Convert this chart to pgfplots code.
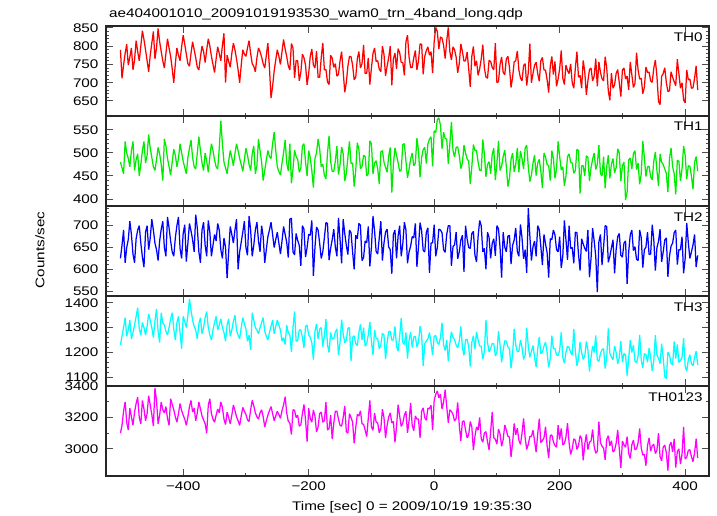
\documentclass[border=0pt]{standalone}
\usepackage{fontspec}
\setmainfont{Liberation Sans}[FakeStretch=1.22]
\usepackage{pgfplots}
\usepackage{pgfplotstable}
\pgfplotsset{compat=1.18}

\pgfplotstableread{
t a b c d e
-510 760 470 640 1250 3130
-507.5 735 495 660 1225 3085
-505 722 515 675 1285 3190
-502.5 768 500 700 1310 3230
-500 790 480 625 1230 3100
-497.5 712 468 655 1265 3150
-495 748 455 690 1300 3240
-492.5 780 525 615 1340 3300
-490 805 500 650 1265 3170
-487.5 748 488 668 1290 3120
-485 770 470 710 1330 3260
-482.5 795 505 680 1255 3205
-480 735 525 635 1280 3150
-477.5 762 462 615 1310 3235
-475 815 485 670 1345 3290
-472.5 785 498 690 1380 3330
-470 760 450 700 1295 3200
-467.5 800 475 660 1270 3160
-465 842 505 628 1320 3310
-462.5 818 525 605 1300 3255
-460 790 478 685 1270 3180
-457.5 760 495 700 1305 3225
-455 730 540 645 1355 3340
-452.5 775 510 672 1330 3280
-450 808 490 715 1300 3220
-447.5 840 470 690 1260 3145
-445 765 462 660 1325 3390
-442.5 795 485 645 1375 3310
-440 848 512 620 1285 3160
-437.5 812 498 665 1240 3215
-435 785 475 692 1360 3300
-432.5 760 440 710 1320 3250
-430 740 530 650 1310 3230
-427.5 780 515 630 1285 3270
-425 820 488 720 1270 3195
-422.5 795 470 695 1300 3150
-420 772 452 665 1335 3320
-417.5 738 480 640 1360 3285
-415 700 508 630 1295 3250
-412.5 752 495 672 1250 3205
-410 795 470 700 1320 3170
-407.5 775 488 720 1345 3225
-405 760 520 648 1280 3290
-402.5 798 500 625 1215 3245
-400 830 482 682 1345 3215
-397.5 805 468 702 1325 3190
-395 778 455 618 1300 3150
-392.5 752 490 660 1350 3205
-390 745 510 705 1415 3270
-387.5 780 528 688 1370 3310
-385 812 490 668 1330 3235
-382.5 790 470 640 1305 3260
-380 768 465 725 1290 3180
-377.5 742 500 695 1255 3230
-375 735 535 640 1315 3300
-372.5 770 505 615 1340 3255
-370 800 478 690 1275 3210
-367.5 785 462 708 1300 3185
-365 755 500 655 1340 3160
-362.5 790 482 630 1365 3100
-360 820 458 712 1300 3280
-357.5 800 492 685 1270 3320
-355 772 520 630 1250 3225
-352.5 750 505 655 1290 3190
-350 728 485 680 1320 3170
-347.5 765 470 665 1345 3215
-345 798 465 705 1290 3255
-342.5 780 510 690 1310 3230
-340 760 570 645 1335 3300
-337.5 802 520 625 1300 3265
-335 835 480 672 1280 3190
-332.5 700 468 650 1245 3155
-330 775 455 580 1310 3235
-327.5 758 482 640 1335 3200
-325 742 505 698 1265 3160
-322.5 780 490 680 1290 3215
-320 808 472 660 1325 3280
-317.5 790 498 690 1350 3245
-315 765 520 715 1290 3205
-312.5 735 505 600 1270 3180
-310 700 488 640 1255 3150
-307.5 748 475 662 1300 3210
-305 790 460 685 1340 3265
-302.5 778 485 710 1315 3240
-300 772 510 650 1295 3220
-297.5 795 495 632 1245 3185
-295 815 475 722 1270 3175
-292.5 780 462 690 1210 3250
-290 752 498 630 1360 3310
-287.5 745 515 655 1330 3275
-285 730 455 690 1300 3230
-282.5 768 472 708 1290 3205
-280 795 530 665 1275 3190
-277.5 785 505 640 1300 3230
-275 770 480 700 1320 3250
-272.5 752 440 675 1340 3205
-270 740 462 615 1285 3140
-267.5 775 485 645 1265 3180
-265 808 505 675 1250 3215
-262.5 740 492 690 1280 3245
-260 658 488 708 1305 3270
-257.5 690 520 680 1330 3225
-255 732 545 650 1275 3180
-252.5 762 505 668 1305 3210
-250 790 470 685 1330 3240
-247.5 772 460 660 1310 3220
-245 750 452 635 1290 3195
-242.5 785 478 665 1245 3245
-240 818 500 698 1260 3280
-237.5 792 528 680 1232 3333
-235 772 478 662 1310 3230
-232.5 746 461 627 1279 3176
-230 735 520 715 1270 3165
-227.5 807 434 717 1202 3091
-225 795 465 640 1300 3250
-222.5 713 506 633 1365 3246
-220 760 492 682 1245 3200
-217.5 760 486 666 1248 3215
-215 705 458 655 1290 3145
-212.5 728 467 608 1291 3154
-210 778 515 700 1260 3225
-207.5 768 520 692 1218 3284
-205 748 480 628 1305 3185
-202.5 694 450 650 1310 3046
-200 725 505 680 1270 3260
-197.5 772 490 678 1261 3195
-195 792 462 712 1240 3170
-192.5 748 425 585 1171 3248
-190 740 488 650 1285 3210
-187.5 786 500 697 1315 3108
-185 715 530 690 1255 3140
-182.5 715 509 660 1294 3226
-180 768 470 625 1300 3235
-177.5 809 476 640 1224 3170
-175 735 452 672 1265 3180
-172.5 736 444 707 1335 3300
-170 702 500 705 1230 3120
-167.5 695 537 621 1200 3130
-165 775 482 648 1280 3215
-162.5 767 460 668 1255 3062
-160 742 460 692 1255 3165
-157.5 752 482 651 1282 3241
-155 718 515 630 1295 3240
-152.5 723 453 718 1189 3190
-150 760 475 668 1240 3150
-147.5 785 513 614 1332 3145
-145 730 498 715 1275 3200
-142.5 674 439 682 1239 3275
-140 700 455 655 1250 3110
-137.5 745 491 634 1297 3100
-135 772 525 690 1300 3225
-132.5 771 477 684 1165 3200
-130 748 478 640 1260 3170
-127.5 708 427 600 1267 3035
-125 715 462 678 1235 3135
-122.5 765 522 670 1227 3220
-120 785 508 705 1280 3210
-117.5 740 466 701 1313 3243
-115 752 470 620 1250 3160
-112.5 803 495 627 1300 3157
-110 725 492 665 1225 3120
-107.5 726 450 661 1236 3078
-105 768 455 698 1270 3195
-102.5 695 526 607 1323 3310
-100 740 520 650 1245 3140
-97.5 780 454 722 1189 3118
-95 795 478 688 1290 3230
-92.5 758 483 641 1257 3172
-90 760 465 635 1255 3165
-87.5 737 433 672 1215 3102
-85 730 502 710 1230 3130
-82.5 800 505 620 1277 3253
-80 778 480 660 1270 3200
-77.5 719 469 685 1173 3069
-75 745 458 692 1240 3150
-72.5 768 493 651 1283 3203
-70 800 512 645 1285 3230
-67.5 693 414 590 1250 3166
-65 765 475 680 1250 3175
-62.5 781 511 690 1305 3042
-60 738 495 625 1225 3140
-57.5 793 479 676 1205 3282
-55 782 460 700 1265 3210
-52.5 755 463 630 1339 3143
-50 755 518 658 1240 3165
-47.5 720 520 708 1232 3215
-45 812 482 690 1280 3240
-42.5 830 446 614 1175 3102
-40 770 465 640 1250 3180
-37.5 741 487 653 1282 3294
-35 742 500 675 1220 3150
-32.5 768 472 672 1262 3116
-30 788 478 705 1265 3210
-27.5 735 532 606 1222 3190
-25 760 505 652 1240 3190
-22.5 806 447 707 1306 3070
-20 805 490 688 1270 3240
-17.5 723 507 643 1145 3262
-15 772 512 640 1235 3200
-12.5 788 477 685 1245 3182
-10 798 520 695 1255 3260
-7.5 775 530 592 1280 3257
-5 785 535 660 1240 3280
-2.5 726 471 661 1189 3120
0 812 548 702 1265 3310
2.5 851 544 630 1268 3349
5 840 572 650 1240 3370
7.5 792 576 692 1232 3326
10 825 560 690 1260 3350
12.5 822 509 684 1320 3254
15 802 545 645 1230 3300
17.5 766 531 639 1208 3378
20 815 530 680 1250 3270
22.5 851 476 700 1164 3167
25 785 520 700 1235 3250
27.5 762 567 608 1283 3239
30 798 505 652 1260 3220
32.5 790 491 656 1251 3178
35 770 512 685 1230 3195
37.5 727 513 624 1218 3297
40 752 495 640 1245 3150
42.5 806 466 667 1305 3050
45 785 478 678 1220 3175
47.5 759 517 594 1188 3179
50 760 500 700 1250 3120
52.5 784 487 670 1253 3070
55 738 482 650 1225 3090
57.5 689 433 648 1143 3175
60 772 470 682 1240 3140
62.5 799 518 687 1267 2992
65 745 505 632 1215 3080
67.5 760 505 617 1283 3140
70 720 480 675 1250 3120
72.5 738 462 712 1226 3201
75 765 462 700 1225 3065
77.5 804 529 640 1173 3042
80 740 498 648 1205 3100
82.5 716 448 600 1330 3110
85 712 475 685 1240 3045
87.5 761 481 673 1202 2993
90 758 455 625 1215 3110
92.5 742 497 659 1236 3236
95 735 510 670 1235 3070
97.5 808 441 631 1186 3060
100 700 478 700 1200 3030
102.5 703 526 693 1285 3126
105 750 462 650 1230 3095
107.5 770 471 581 1160 3016
110 728 492 685 1210 3060
112.5 722 506 651 1247 3153
115 765 470 640 1245 3120
117.5 772 427 676 1222 3080
120 742 445 678 1215 3075
122.5 687 486 612 1136 2947
125 715 500 655 1195 3040
127.5 757 459 667 1296 3162
130 760 475 695 1230 3090
132.5 787 511 641 1203 3131
135 735 458 630 1205 3055
137.5 713 504 703 1250 3028
140 705 488 672 1220 3100
142.5 747 465 624 1172 3195
145 752 510 645 1190 3070
147.5 692 517 592 1300 2996
150 728 470 740 1225 3030
152.5 807 438 676 1181 3079
155 700 452 620 1205 3080
157.5 725 478 652 1228 3119
160 748 495 665 1180 3050
162.5 756 451 630 1142 2979
165 725 478 700 1215 3095
167.5 704 486 691 1262 3193
170 760 460 652 1195 3040
172.5 769 424 610 1202 3053
175 735 500 680 1225 3070
177.5 734 491 658 1242 3141
180 708 475 638 1200 3020
182.5 673 472 581 1140 2941
185 745 440 670 1175 3085
187.5 772 505 668 1267 3089
190 722 488 690 1215 3045
192.5 758 445 679 1215 3021
195 690 465 645 1190 3010
197.5 710 525 640 1187 3151
200 738 492 675 1210 3060
202.5 788 463 603 1281 3131
205 712 470 630 1180 3025
207.5 695 429 712 1157 3034
210 748 450 668 1200 3075
212.5 733 492 622 1225 3164
215 725 498 700 1220 3040
217.5 751 480 648 1200 2964
220 700 478 650 1190 3000
222.5 685 456 614 1295 3064
225 740 462 685 1205 3055
227.5 785 508 684 1146 2996
230 715 505 635 1175 3020
232.5 720 412 597 1242 3084
235 685 472 670 1200 3065
237.5 761 472 658 1172 2926
240 730 450 648 1185 3030
242.5 667 494 641 1244 3092
245 705 490 690 1210 2995
247.5 736 439 582 1123 3042
250 740 468 625 1180 3050
252.5 705 486 694 1226 3124
255 718 500 665 1200 3015
257.5 766 464 630 1268 2972
260 690 475 548 1170 2985
262.5 757 517 663 1164 3174
265 728 455 680 1195 3040
267.5 711 450 610 1212 3016
270 705 492 652 1215 3005
272.5 771 423 700 1135 2930
275 740 470 698 1180 3060
277.5 678 495 616 1297 3084
280 652 445 630 1195 3020
282.5 726 476 649 1182 3052
285 685 488 668 1170 2980
287.5 694 457 591 1226 2990
290 725 468 645 1200 3035
292.5 736 509 675 1154 3120
295 700 500 682 1180 3000
297.5 662 439 632 1245 2878
300 735 472 628 1160 3050
302.5 740 480 660 1196 3026
305 710 398 665 1190 3010
307.5 718 415 567 1107 3078
310 680 485 640 1175 2970
312.5 757 489 679 1250 2938
315 722 465 690 1200 3025
317.5 687 498 643 1229 3056
320 698 505 652 1165 2995
322.5 782 464 623 1159 3000
325 735 478 620 1185 3040
327.5 710 432 690 1270 3130
330 712 455 672 1170 3005
332.5 670 526 604 1137 2960
335 688 490 645 1195 2965
337.5 743 449 651 1192 2892
340 728 470 685 1160 3020
342.5 729 471 634 1218 3070
345 705 448 635 1180 2985
347.5 701 442 702 1125 3020
350 740 482 668 1165 3030
352.5 762 502 597 1269 2970
355 718 462 650 1190 2990
357.5 649 428 664 1176 3100
360 640 498 692 1155 2950
362.5 717 480 617 1235 2924
365 725 475 640 1180 3010
367.5 741 465 667 1102 3024
370 700 455 672 1095 2975
372.5 676 415 583 1201 2860
375 678 488 630 1190 3020
377.5 730 511 653 1156 3042
380 715 470 660 1150 2980
382.5 703 455 684 1244 3064
385 692 410 690 1175 2880
387.5 764 484 611 1232 2982
390 725 482 645 1160 3000
392.5 685 439 645 1168 2902
395 700 465 675 1180 2965
397.5 653 515 591 1257 3140
400 645 495 625 1145 2935
402.5 735 443 706 1124 2946
405 708 472 662 1170 2990
407.5 710 471 625 1191 2994
410 685 450 640 1155 2950
412.5 686 421 656 1146 2918
415 712 480 680 1180 2975
417.5 746 492 605 1205 3065
420 680 460 632 1150 2940
422.5 662 456 669 1101 2876
425 665 470 655 1165 2960
}\lc

\definecolor{qgreen}{RGB}{0,235,0}
\definecolor{qcyan}{RGB}{0,255,255}
\definecolor{qmag}{RGB}{255,0,255}

\pgfplotsset{
  panel/.style={
    scale only axis, width=361.8pt, height=54pt,
    xmin=-523, xmax=438,
    axis line style={line width=0.8pt, black!85},
    every tick/.style={black!70, line width=0.6pt},
    tick align=inside,
    xtick pos=both, ytick pos=both,
    yticklabel pos=left,
    xtick={-400,-200,0,200,400}, minor x tick num=1,
    xticklabels={},
    major tick length=4pt, minor tick length=2pt,
    tick label style={font=\fontsize{7.5}{9}\selectfont},
    /pgf/number format/assume math mode=true,
    /pgf/number format/1000 sep={},
    yticklabel style={xshift=-1pt},
  },
  lc/.style={line width=0.75pt, mark=none, line join=bevel, restrict x to domain=-500:420},
}

\newcommand\lbl[1]{\node[anchor=north east, inner sep=0pt, font=\fontsize{7.5}{9}\selectfont] at (rel axis cs:1,1) [xshift=-3.6pt, yshift=-3.6pt] {#1};}

\begin{document}
\begin{tikzpicture}
\path[use as bounding box] (0,0) rectangle (430.2pt,309.6pt);

% TH0
\begin{axis}[panel, at={(63.6pt,240pt)}, anchor=south west,
  ymin=609, ymax=855, ytick={650,700,750,800,850}, minor y tick num=4]
\addplot[lc, red] table[x=t, y=a] {\lc};
\lbl{TH0}
\end{axis}

% TH1
\begin{axis}[panel, at={(63.6pt,186pt)}, anchor=south west,
  ymin=385, ymax=580, ytick={400,450,500,550}, minor y tick num=4]
\addplot[lc, qgreen] table[x=t, y=b] {\lc};
\lbl{TH1}
\end{axis}

% TH2
\begin{axis}[panel, at={(63.6pt,132pt)}, anchor=south west,
  ymin=539, ymax=745, ytick={550,600,650,700,750}, minor y tick num=4]
\addplot[lc, blue] table[x=t, y=c] {\lc};
\lbl{TH2}
\end{axis}

% TH3
\begin{axis}[panel, at={(63.6pt,78pt)}, anchor=south west,
  ymin=1065, ymax=1427, ytick={1100,1200,1300,1400}, minor y tick num=4]
\addplot[lc, qcyan] table[x=t, y=d] {\lc};
\lbl{TH3}
\end{axis}

% TH0123
\begin{axis}[panel, at={(63.6pt,24pt)}, anchor=south west,
  ymin=2826, ymax=3402, ytick={3000,3200,3400}, minor y tick num=1,
  xticklabels={−400,−200,0,200,400}]
\addplot[lc, qmag] table[x=t, y=e] {\lc};
\lbl{TH0123}
\end{axis}

\node[anchor=west, font=\fontsize{7.5}{9}\selectfont] at (62pt,301.2pt) {ae404001010\_20091019193530\_wam0\_trn\_4band\_long.qdp};
\node[rotate=90, font=\fontsize{7.5}{9}\selectfont] at (24pt,159.6pt) {Counts/sec};
\node[font=\fontsize{7.5}{9}\selectfont] at (247.2pt,5.4pt) {Time [sec] 0 = 2009/10/19 19:35:30};
\end{tikzpicture}
\end{document}
